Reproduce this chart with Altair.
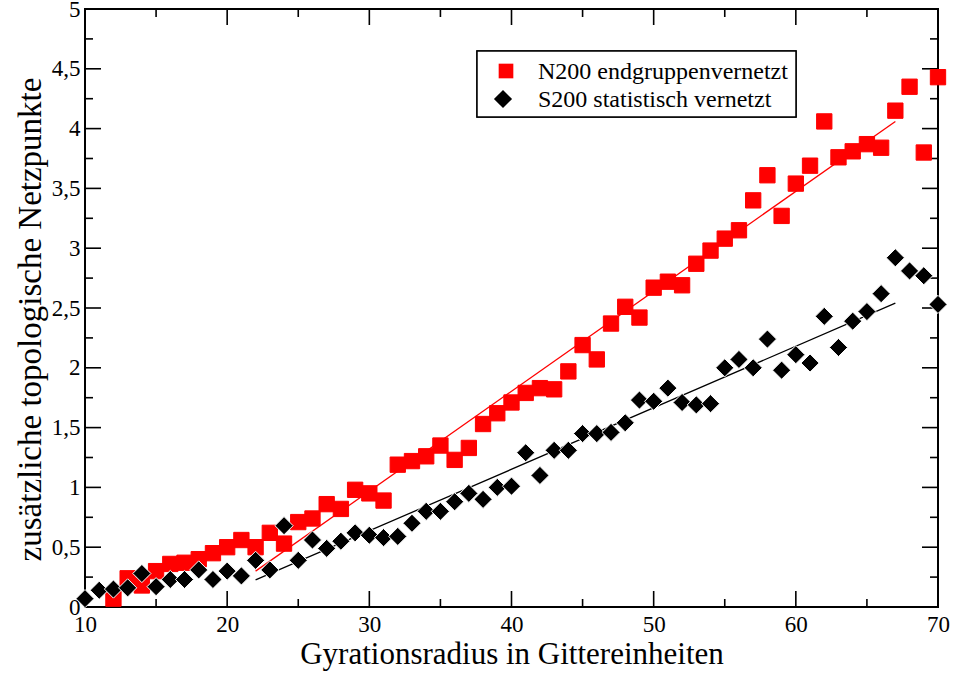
import altair as alt
import pandas as pd

# Gyration radius (lattice units) and extra topological network points
n200_label = "N200 endgruppenvernetzt"
s200_label = "S200 statistisch vernetzt"

n200_x = list(range(12, 71))
n200_y = [0.07, 0.24, 0.18, 0.30, 0.36, 0.37, 0.40, 0.45, 0.50, 0.56,
          0.50, 0.62, 0.53, 0.71, 0.74, 0.86, 0.82, 0.98, 0.95, 0.89,
          1.19, 1.22, 1.26, 1.35, 1.23, 1.33, 1.53, 1.62, 1.71, 1.79,
          1.83, 1.82, 1.97, 2.19, 2.07, 2.37, 2.51, 2.42, 2.67, 2.72,
          2.69, 2.87, 2.98, 3.08, 3.15, 3.40, 3.61, 3.27, 3.54, 3.69,
          4.06, 3.76, 3.81, 3.87, 3.84, 4.15, 4.35, 3.80, 4.43]

s200_x = list(range(10, 71))
s200_y = [0.07, 0.14, 0.15, 0.16, 0.28, 0.17, 0.23, 0.23, 0.31, 0.23,
          0.30, 0.26, 0.39, 0.31, 0.68, 0.39, 0.56, 0.49, 0.55, 0.62,
          0.60, 0.58, 0.59, 0.70, 0.80, 0.80, 0.88, 0.95, 0.90, 1.00,
          1.01, 1.29, 1.10, 1.31, 1.31, 1.45, 1.45, 1.46, 1.54, 1.73,
          1.72, 1.83, 1.71, 1.69, 1.70, 2.00, 2.07, 2.00, 2.24, 1.98,
          2.11, 2.04, 2.43, 2.17, 2.39, 2.47, 2.62, 2.92, 2.81, 2.77,
          2.53]

# Linear fits (end points)
fit_x = [22, 67]
n200_fit = [0.30, 4.06]
s200_fit = [0.226, 2.54]

# Tick positions
x_major = [10, 20, 30, 40, 50, 60, 70]
x_minor = [15, 25, 35, 45, 55, 65]
y_major = [0, 0.5, 1, 1.5, 2, 2.5, 3, 3.5, 4, 4.5, 5]
y_minor = [0.25, 0.75, 1.25, 1.75, 2.25, 2.75, 3.25, 3.75, 4.25, 4.75]

W, H = 853, 598
FONT = "Liberation Serif"
MAJOR, MINOR = 16, 8
RED, BLACK = "#ff0000", "#000000"

points = pd.DataFrame({
    "x": n200_x + s200_x,
    "y": n200_y + s200_y,
    "series": [n200_label] * len(n200_x) + [s200_label] * len(s200_x),
})

x_enc = alt.X("x:Q",
              scale=alt.Scale(domain=[10, 70], nice=False, zero=False),
              axis=alt.Axis(values=x_major, ticks=False, domain=False, grid=False,
                            labelFont=FONT, labelFontSize=23, labelColor="black",
                            labelPadding=6, labelFlush=False,
                            title="Gyrationsradius in Gittereinheiten",
                            titleFont=FONT, titleFontSize=31, titleFontWeight="normal",
                            titleColor="black", titlePadding=3))
y_enc = alt.Y("y:Q",
              scale=alt.Scale(domain=[0, 5], nice=False, zero=False),
              axis=alt.Axis(values=y_major, ticks=False, domain=False, grid=False,
                            labelFont=FONT, labelFontSize=23, labelColor="black",
                            labelPadding=5, labelFlush=False,
                            labelExpr="replace(format(datum.value, '~g'), '.', ',')",
                            title="zusätzliche topologische Netzpunkte",
                            titleFont=FONT, titleFontSize=33, titleFontWeight="normal",
                            titleColor="black", titlePadding=4, titleY=310))

domain = [n200_label, s200_label]

scatter = alt.Chart(points).mark_point(filled=True, opacity=1, strokeWidth=1).encode(
    x=x_enc,
    y=y_enc,
    color=alt.Color("series:N", scale=alt.Scale(domain=domain, range=[RED, BLACK]),
                    legend=None),
    shape=alt.Shape("series:N", scale=alt.Scale(domain=domain, range=["square", "diamond"]),
                    legend=None),
    size=alt.Size("series:N", scale=alt.Scale(domain=domain, range=[235, 330]), legend=None),
    stroke=alt.Stroke("series:N", scale=alt.Scale(domain=domain, range=[RED, "#ffffff"]),
                      legend=None),
    order=alt.Order("order:Q"),
).transform_calculate(order=f"datum.series == '{s200_label}' ? 1 : 0")

fit_red = alt.Chart(pd.DataFrame({"x": fit_x, "y": n200_fit})).mark_line(
    color=RED, strokeWidth=1.3).encode(x=x_enc, y=y_enc)
fit_black = alt.Chart(pd.DataFrame({"x": fit_x, "y": s200_fit})).mark_line(
    color=BLACK, strokeWidth=1.3).encode(x=x_enc, y=y_enc)


def x_ticks(values, length):
    df = pd.DataFrame({"x": values})
    bottom = alt.Chart(df).mark_rule(color="black", strokeWidth=1.6).encode(
        x=x_enc, y=alt.value(H), y2=alt.value(H - length))
    top = alt.Chart(df).mark_rule(color="black", strokeWidth=1.6).encode(
        x=x_enc, y=alt.value(0), y2=alt.value(length))
    return [bottom, top]


def y_ticks(values, length):
    df = pd.DataFrame({"y": values})
    left = alt.Chart(df).mark_rule(color="black", strokeWidth=1.6).encode(
        y=y_enc, x=alt.value(0), x2=alt.value(length))
    right = alt.Chart(df).mark_rule(color="black", strokeWidth=1.6).encode(
        y=y_enc, x=alt.value(W), x2=alt.value(W - length))
    return [left, right]


tick_layers = (x_ticks(x_major, MAJOR) + x_ticks(x_minor, MINOR)
               + y_ticks(y_major, MAJOR) + y_ticks(y_minor, MINOR))

# Legend box in the upper part of the plot
LEG_X0, LEG_X1, LEG_Y0, LEG_Y1 = 392, 711, 42, 108
ROW1, ROW2 = 62, 90
SYM_X, TXT_X = 421, 453

legend_data = pd.DataFrame({"label": [n200_label, s200_label]})
leg_box = alt.Chart(legend_data).mark_rect(
    fill="white", stroke="black", strokeWidth=1.5).encode(
    x=alt.value(LEG_X0), x2=alt.value(LEG_X1), y=alt.value(LEG_Y0), y2=alt.value(LEG_Y1))
leg_sym1 = alt.Chart(legend_data.iloc[[0]]).mark_point(
    shape="square", filled=True, color=RED, size=215, opacity=1).encode(
    x=alt.value(SYM_X), y=alt.value(ROW1))
leg_sym2 = alt.Chart(legend_data.iloc[[1]]).mark_point(
    shape="diamond", filled=True, color=BLACK, size=330, opacity=1).encode(
    x=alt.value(SYM_X - 3), y=alt.value(ROW2))
leg_txt1 = alt.Chart(legend_data.iloc[[0]]).mark_text(
    align="left", baseline="middle", font=FONT, fontSize=24, color="black").encode(
    x=alt.value(TXT_X), y=alt.value(ROW1 + 1), text="label:N")
leg_txt2 = alt.Chart(legend_data.iloc[[1]]).mark_text(
    align="left", baseline="middle", font=FONT, fontSize=24, color="black").encode(
    x=alt.value(TXT_X), y=alt.value(ROW2 + 1), text="label:N")

chart = alt.layer(*tick_layers, fit_red, fit_black, scatter,
                  leg_box, leg_sym1, leg_sym2, leg_txt1, leg_txt2).properties(
    width=W, height=H,
    autosize=alt.AutoSizeParams(type="none"),
    padding={"left": 85, "top": 9, "right": 17, "bottom": 67},
    background="white",
).configure(
    font=FONT
).configure_view(
    stroke="black", strokeWidth=2
)

chart.save("out.html", embed_options={"renderer": "svg", "actions": False})
